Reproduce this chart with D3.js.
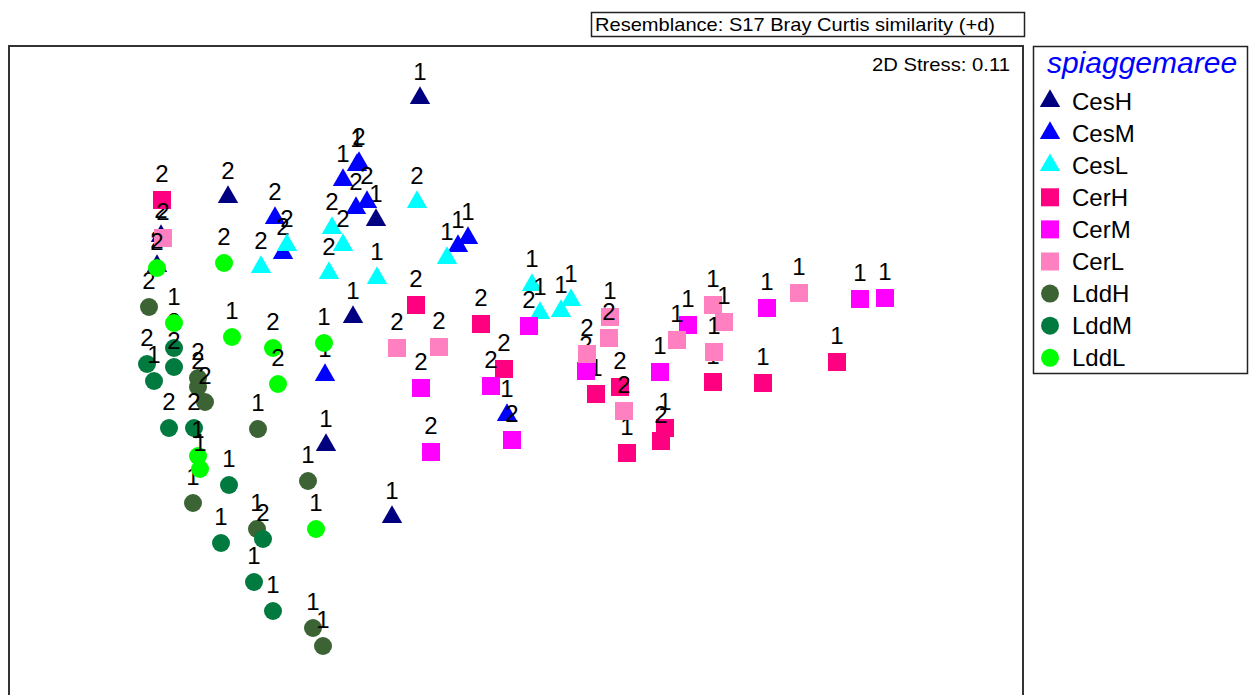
<!DOCTYPE html>
<html>
<head>
<meta charset="utf-8">
<script src="https://cdn.jsdelivr.net/npm/d3@7"></script>
<style>
  body { margin: 0; background: #fff; }
  svg { display: block; font-family: "Liberation Sans", Arial, sans-serif; }
</style>
</head>
<body>
<svg id="chart" width="1252" height="695"></svg>
<script>
// nMDS ordination, sample scores [MDS1, MDS2, sample label]
const groups = ['CesH', 'CesM', 'CesL', 'CerH', 'CerM', 'CerL', 'LddH', 'LddM', 'LddL'];
const groupColors = ['#000080', '#0000ff', '#00ffff', '#ff0080', '#ff00ff', '#ff80c0', '#3b6334', '#007a3e', '#00ff00'];
const groupShapes = ['triangle', 'triangle', 'triangle', 'square', 'square', 'square', 'circle', 'circle', 'circle'];

const cesH = [[-0.40, 1.31, '1'], [-1.36, 0.815, '2'], [-1.695, 0.62, '2'], [-1.715, 0.47, '2'],
  [-0.62, 0.70, '1'], [-0.735, 0.215, '1'], [-0.87, -0.425, '1'], [-0.54, -0.785, '1']];
const cesM = [[-0.715, 0.975, '1'], [-0.705, 0.985, '2'], [-0.785, 0.90, '1'], [-0.72, 0.76, '2'],
  [-0.665, 0.79, '2'], [-1.125, 0.71, '2'], [-1.085, 0.535, '2'], [-0.21, 0.57, '1'],
  [-0.16, 0.61, '1'], [-0.875, -0.075, '1'], [0.035, -0.275, '1']];
const cesL = [[-0.415, 0.79, '2'], [-0.84, 0.66, '2'], [-0.785, 0.575, '2'], [-1.065, 0.575, '2'],
  [-1.195, 0.465, '2'], [-0.855, 0.435, '2'], [-0.615, 0.41, '1'], [-0.265, 0.51, '1'],
  [0.16, 0.375, '1'], [0.20, 0.235, '1'], [0.305, 0.245, '1'], [0.355, 0.30, '1']];
const cerH = [[-1.69, 0.80, '2'], [-0.42, 0.275, '2'], [-0.095, 0.18, '2'], [0.02, -0.045, '2'],
  [0.48, -0.17, '1'], [0.60, -0.135, '2'], [0.635, -0.465, '1'], [0.825, -0.34, '1'],
  [0.805, -0.405, '2'], [1.065, -0.11, '1'], [1.315, -0.115, '1'], [1.685, -0.01, '1']];
const cerM = [[-0.395, -0.14, '2'], [-0.345, -0.46, '2'], [-0.045, -0.13, '2'], [0.06, -0.40, '2'],
  [0.145, 0.17, '2'], [0.43, -0.055, '2'], [0.80, -0.06, '1'], [0.94, 0.175, '1'],
  [1.335, 0.26, '1'], [1.80, 0.305, '1'], [1.925, 0.31, '1']];
const cerL = [[-1.685, 0.61, '2'], [-0.515, 0.06, '2'], [-0.305, 0.065, '2'], [0.55, 0.215, '1'],
  [0.545, 0.11, '2'], [0.435, 0.03, '2'], [0.62, -0.255, '2'], [0.885, 0.10, '1'],
  [1.065, 0.275, '1'], [1.12, 0.19, '1'], [1.07, 0.04, '1'], [1.495, 0.335, '1']];
const lddH = [[-1.755, 0.265, '2'], [-1.51, -0.09, '2'], [-1.51, -0.135, '2'], [-1.475, -0.21, '2'],
  [-1.21, -0.345, '1'], [-0.96, -0.605, '1'], [-1.535, -0.715, '1'], [-1.215, -0.845, '1'],
  [-0.935, -1.34, '1'], [-0.885, -1.43, '1']];
const lddM = [[-1.63, 0.06, '2'], [-1.765, -0.02, '2'], [-1.63, -0.035, '2'], [-1.73, -0.105, '1'],
  [-1.655, -0.34, '2'], [-1.53, -0.34, '2'], [-1.355, -0.625, '1'], [-1.185, -0.895, '2'],
  [-1.395, -0.915, '1'], [-1.23, -1.11, '1'], [-1.135, -1.255, '1']];
const lddL = [[-1.715, 0.46, '2'], [-1.38, 0.485, '2'], [-1.63, 0.185, '1'], [-1.34, 0.115, '1'],
  [-1.135, 0.06, '2'], [-1.11, -0.12, '2'], [-0.88, 0.085, '1'], [-1.51, -0.48, '1'],
  [-1.50, -0.545, '1'], [-0.92, -0.845, '1']];
const groupData = [cesH, cesM, cesL, cerH, cerM, cerL, lddH, lddM, lddL];

const stressText = '2D Stress: 0.11';
const resemblanceText = 'Resemblance: S17 Bray Curtis similarity (+d)';
const legendTitle = 'spiaggemaree';

const svg = d3.select('#chart');
const plot = { left: 9, top: 46, right: 1023, bottom: 720 };

const xScale = d3.scaleLinear().domain([-2.45, 2.615]).range([10, 1023]);
const yScale = d3.scaleLinear().domain([1.575, -1.675]).range([45, 695]);

const symbolTypes = { triangle: d3.symbolTriangle, square: d3.symbolSquare, circle: d3.symbolCircle };
const symbolSizes = { triangle: 180, square: 324, circle: 254 };
const symbolPath = shape => d3.symbol().type(symbolTypes[shape]).size(symbolSizes[shape])();

// Resemblance box
svg.append('rect')
  .attr('x', 591.5).attr('y', 12.5).attr('width', 433).attr('height', 24)
  .attr('fill', 'none').attr('stroke', '#222').attr('stroke-width', 1.5);
svg.append('text')
  .attr('x', 595).attr('y', 31)
  .attr('font-size', 19).attr('fill', '#000')
  .attr('textLength', 400).attr('lengthAdjust', 'spacingAndGlyphs')
  .text(resemblanceText);

// Plot frame
svg.append('rect')
  .attr('x', plot.left).attr('y', plot.top)
  .attr('width', plot.right - plot.left).attr('height', plot.bottom - plot.top)
  .attr('fill', 'none').attr('stroke', '#333').attr('stroke-width', 2);

svg.append('text')
  .attr('x', 872).attr('y', 71)
  .attr('font-size', 19)
  .attr('textLength', 138).attr('lengthAdjust', 'spacingAndGlyphs')
  .text(stressText);

// Points, each with its label drawn on top
const points = svg.append('g');
groupData.forEach((rows, gi) => {
  rows.forEach(r => {
    const px = xScale(r[0]), py = yScale(r[1]);
    points.append('path')
      .attr('d', symbolPath(groupShapes[gi]))
      .attr('transform', `translate(${px},${py})`)
      .attr('fill', groupColors[gi]);
    points.append('text')
      .attr('x', px).attr('y', py - 18)
      .attr('text-anchor', 'middle').attr('font-size', 24)
      .attr('fill', '#000')
      .text(r[2]);
  });
});

// Legend
const legend = svg.append('g');
legend.append('rect')
  .attr('x', 1033.5).attr('y', 46.5).attr('width', 214).attr('height', 327)
  .attr('fill', '#fff').attr('stroke', '#222').attr('stroke-width', 1.5);
legend.append('text')
  .attr('x', 1142).attr('y', 73)
  .attr('text-anchor', 'middle').attr('font-size', 30)
  .attr('font-style', 'italic').attr('fill', '#0000ff')
  .text(legendTitle);
groups.forEach((g, i) => {
  const y = 101 + i * 32.1;
  legend.append('path')
    .attr('d', symbolPath(groupShapes[i]))
    .attr('transform', `translate(1050,${y})`)
    .attr('fill', groupColors[i]);
  legend.append('text')
    .attr('x', 1072).attr('y', y + 8.5)
    .attr('font-size', 24)
    .text(g);
});
</script>
</body>
</html>
